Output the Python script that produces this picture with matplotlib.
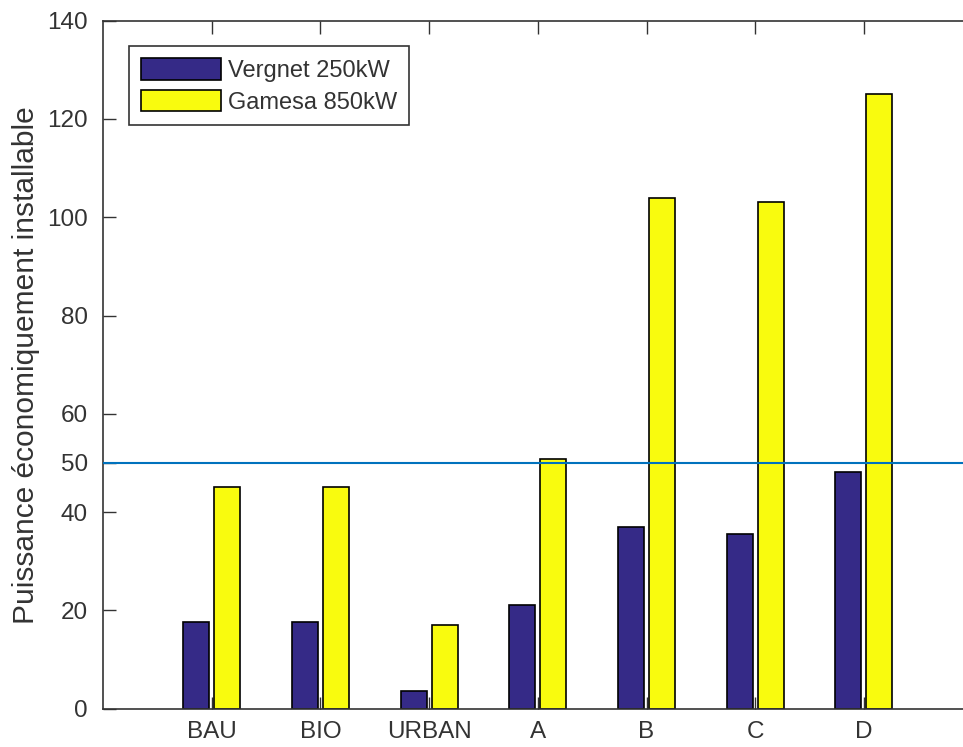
import matplotlib
matplotlib.use("Agg")
import matplotlib.pyplot as plt
import numpy as np

categories = ["BAU", "BIO", "URBAN", "A", "B", "C", "D"]
vergnet = [17.6, 17.6, 3.7, 21.2, 37.0, 35.5, 48.1]
gamesa = [45.2, 45.2, 17.1, 50.9, 104.0, 103.1, 125.1]
series_names = ["Vergnet 250kW", "Gamesa 850kW"]
yticks = [0, 20, 40, 50, 60, 80, 100, 120, 140]
threshold = 50

plt.rcParams['font.family'] = ['Liberation Sans', 'DejaVu Sans']
txt = '#333333'

fig = plt.figure(figsize=(9.63, 7.47), dpi=100)
ax = fig.add_axes([103/963, 38.3/747, 869.6/963, 688/747])

x = np.arange(1, len(categories) + 1)
w = 0.24
off = 0.143
ax.bar(x - off, vergnet, w, color='#352a87', edgecolor='black', linewidth=1.2, label=series_names[0], zorder=2)
ax.bar(x + off, gamesa, w, color='#f9fb0e', edgecolor='black', linewidth=1.2, label=series_names[1], zorder=2)
ax.axhline(threshold, color='#0072bd', linewidth=1.5, zorder=3)

ax.set_xlim(0, 8)
ax.set_ylim(0, 140)
ax.set_xticks(x)
ax.set_xticklabels(categories)
ax.set_yticks(yticks)
ax.tick_params(direction='in', length=9, width=1, colors=txt, labelsize=17.5,
               top=True, right=False, pad=9)
ax.tick_params(axis='y', pad=11)
for s in ax.spines.values():
    s.set_color(txt)
    s.set_linewidth(1.2)
ax.set_ylabel("Puissance économiquement installable", fontsize=21.5, color=txt, labelpad=5)

leg = ax.legend(loc='upper left', bbox_to_anchor=(26/869.6, 1 - 25.5/688), fontsize=17,
                frameon=True, fancybox=False, edgecolor=txt, framealpha=1,
                handlelength=3.4, handleheight=1.05, handletextpad=0.3,
                borderpad=0.5, labelspacing=0.32, borderaxespad=0)
leg.get_frame().set_linewidth(1.2)
for t in leg.get_texts():
    t.set_color(txt)

fig.savefig("out.png", dpi=100)
